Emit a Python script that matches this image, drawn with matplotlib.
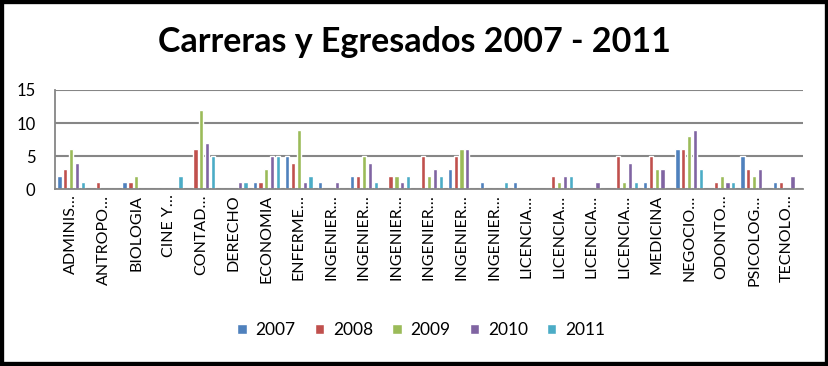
import numpy as np
import matplotlib
matplotlib.use("Agg")
import matplotlib.pyplot as plt
from matplotlib.patches import Rectangle

plt.rcParams['font.family'] = ['Lato', 'DejaVu Sans']

carreras = ["ADMINIS…", "ANTROPO…", "BIOLOGIA", "CINE Y…", "CONTAD…", "DERECHO",
            "ECONOMIA", "ENFERME…", "INGENIER…", "INGENIER…", "INGENIER…",
            "INGENIER…", "INGENIER…", "INGENIER…", "LICENCIA…", "LICENCIA…",
            "LICENCIA…", "LICENCIA…", "MEDICINA", "NEGOCIO…", "ODONTO…",
            "PSICOLOG…", "TECNOLO…"]
anios = ["2007", "2008", "2009", "2010", "2011"]

e2007 = [2, 0, 1, 0, 0, 0, 1, 5, 1, 2, 0, 0, 3, 1, 1, 0, 0, 0, 1, 6, 0, 5, 1]
e2008 = [3, 1, 1, 0, 6, 0, 1, 4, 0, 2, 2, 5, 5, 0, 0, 2, 0, 5, 5, 6, 1, 3, 1]
e2009 = [6, 0, 2, 0, 12, 0, 3, 9, 0, 5, 2, 2, 6, 0, 0, 1, 0, 1, 3, 8, 2, 2, 0]
e2010 = [4, 0, 0, 0, 7, 1, 5, 1, 1, 4, 1, 3, 6, 0, 0, 2, 1, 4, 3, 9, 1, 3, 2]
e2011 = [1, 0, 0, 2, 5, 1, 5, 2, 0, 1, 2, 2, 0, 1, 0, 2, 0, 1, 0, 3, 1, 0, 0]
series = [e2007, e2008, e2009, e2010, e2011]
colores = ["#4F81BD", "#C0504D", "#9BBB59", "#8064A2", "#4BACC6"]

fig = plt.figure(figsize=(8.29, 3.66), dpi=100)
ax = fig.add_axes([0.0663, 0.4836, 0.9023, 0.2705])

x = np.arange(len(carreras))
paso = 0.18
for i, (vals, col, anio) in enumerate(zip(series, colores, anios)):
    ax.bar(x + (i - 2) * paso, vals, width=0.13, color=col, edgecolor="white",
           linewidth=1.0, label=anio, zorder=3)

ax.set_xlim(-0.5, len(carreras) - 0.5)
ax.set_ylim(0, 15)
ax.set_yticks([0, 5, 10, 15])
ax.yaxis.grid(True, color="#868686", linewidth=1.5, zorder=0)
ax.set_axisbelow(True)
for s in ["top", "right"]:
    ax.spines[s].set_visible(False)
for s in ["left", "bottom"]:
    ax.spines[s].set_color("#868686")
    ax.spines[s].set_linewidth(1.3)
    ax.spines[s].set_zorder(5)
ax.tick_params(axis="both", length=0, labelsize=12, pad=4)
ax.tick_params(axis="y", pad=14)
ax.set_xticks(x)
ax.set_xticklabels(carreras, rotation=90, fontsize=11.5)

fig.text(0.5, 0.885, "Carreras y Egresados 2007 - 2011", ha="center", va="center",
         fontsize=24.5, fontweight="bold")

# leyenda abajo, centrada
fig.legend(loc="center", bbox_to_anchor=(0.508, 0.098), ncol=5, frameon=False,
           fontsize=12.5, handlelength=0.55, handleheight=0.55, columnspacing=1.1,
           handletextpad=0.5)

fig.patches.append(Rectangle((0, 0), 1, 1, transform=fig.transFigure, fill=False,
                             edgecolor="black", linewidth=6, zorder=10))

fig.savefig("out.png", dpi=100)
